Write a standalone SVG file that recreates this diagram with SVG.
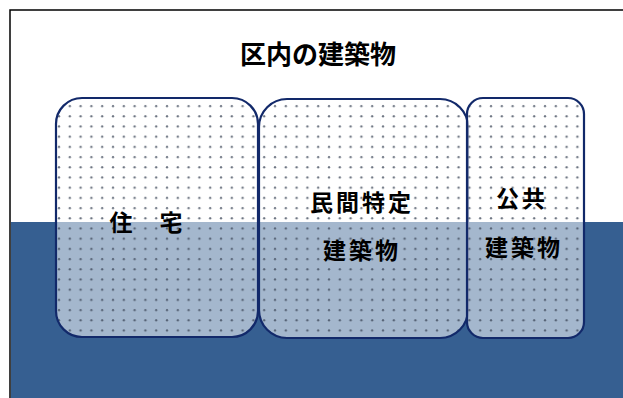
<svg xmlns="http://www.w3.org/2000/svg" width="623" height="398" viewBox="0 0 623 398">
<style>
.box{fill:#ffffff;fill-opacity:0.55;stroke:none}
.edge{fill:none;stroke:#12296a;stroke-width:2.2}
.dots{fill:url(#dotpat)}
.lbl{font-family:"Noto Sans CJK JP","Noto Sans CJK SC",sans-serif;font-weight:bold;fill:#000000;font-size:23px;text-anchor:middle;letter-spacing:3px}
.title{font-family:"Noto Sans CJK JP","Noto Sans CJK SC",sans-serif;font-weight:bold;fill:#000000;font-size:26px;text-anchor:middle}
</style>
<defs>
<pattern id="dotpat" patternUnits="userSpaceOnUse" width="10.8" height="10.2" x="3" y="2">
<circle cx="2" cy="2" r="1.15" fill="#3c4658" fill-opacity="0.75"/>
</pattern>
</defs>
<rect x="0" y="0" width="623" height="398" fill="#ffffff"/>
<rect x="11" y="222" width="612" height="176" fill="#365f91"/>
<path d="M10,398 V10 H623" fill="none" stroke="#000000" stroke-width="1.5"/>
<text class="title" x="318" y="64">区内の建築物</text>
<g id="node-jutaku">
<rect class="box" x="56" y="98" width="202" height="239" rx="26" ry="26"/>
<rect class="dots" x="56" y="98" width="202" height="239" rx="26" ry="26"/>
<rect class="edge" x="56" y="98" width="202" height="239" rx="26" ry="26"/>
<text class="lbl" x="147" y="231" style="letter-spacing:2px">住　宅</text>
</g>
<g id="node-minkan">
<rect class="box" x="259" y="99" width="209" height="239" rx="28" ry="28"/>
<rect class="dots" x="259" y="99" width="209" height="239" rx="28" ry="28"/>
<rect class="edge" x="259" y="99" width="209" height="239" rx="28" ry="28"/>
<text class="lbl" x="362" y="211">民間特定</text>
<text class="lbl" x="362" y="259">建築物</text>
</g>
<g id="node-kokyo">
<rect class="box" x="467" y="98" width="117" height="240" rx="16" ry="16"/>
<rect class="dots" x="467" y="98" width="117" height="240" rx="16" ry="16"/>
<rect class="edge" x="467" y="98" width="117" height="240" rx="16" ry="16"/>
<text class="lbl" x="522" y="207">公共</text>
<text class="lbl" x="524" y="256">建築物</text>
</g>
<g id="connectors"/>
</svg>
